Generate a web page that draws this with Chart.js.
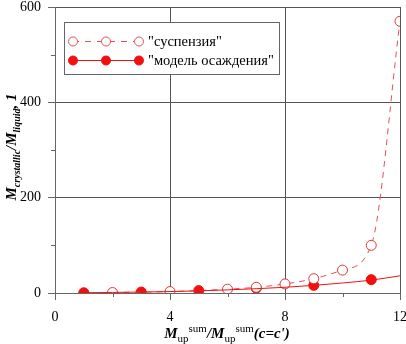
<!DOCTYPE html>
<html>
<head>
<meta charset="utf-8">
<script src="https://cdn.jsdelivr.net/npm/chart.js@4/dist/chart.umd.min.js"></script>
<style>
  html, body { margin: 0; padding: 0; background: #fff; }
  #wrap { width: 406px; height: 344px; position: relative; }
</style>
</head>
<body>
<div id="wrap"><canvas id="chart" width="406" height="344"></canvas></div>
<script>
// "суспензия" – open circles, dashed line
const suspX = [2, 4, 6, 7, 8, 9, 10, 11, 12];
const suspY = [1, 3, 8, 12, 19, 30, 48, 100, 570];
// "модель осаждения" – filled circles
const modelX = [1, 3, 5, 7, 9, 11];
const modelY = [0.5, 2, 5, 10, 16, 28];
// smooth solid curve through the model points
const fitX = [1, 2, 3, 4, 5, 6, 7, 8, 9, 10, 11, 12];
const fitY = [0.5, 1.2, 2, 3, 4.5, 6.5, 9, 12, 16, 21, 27, 36];

const legendLabels = ['"суспензия"', '"модель осаждения"'];
const xTickLabels = [0, 4, 8, 12];
const yTickLabels = [0, 200, 400, 600];

const SERIF = '"Liberation Serif", "Times New Roman", serif';
const DASH_RED = "#e5505a";
const RED = "#f01010";

const pts = (xs, ys) => xs.map((x, i) => ({ x: x, y: ys[i] }));

function drawRich(ctx, parts, x, y) {
  let total = 0;
  parts.forEach(p => { ctx.font = p.font; total += ctx.measureText(p.t).width; });
  let cx = x - total / 2;
  ctx.textAlign = "left";
  ctx.textBaseline = "alphabetic";
  parts.forEach(p => {
    ctx.font = p.font;
    ctx.fillText(p.t, cx, y + (p.dy || 0));
    cx += ctx.measureText(p.t).width;
  });
}

const big = "italic bold 15px " + SERIF;
const small = "11px " + SERIF;
const smallBI = "italic bold 10px " + SERIF;

const extras = {
  id: "extras",
  afterDraw(chart) {
    const ctx = chart.ctx;
    const xs = chart.scales.x, ys = chart.scales.y;
    const area = chart.chartArea;
    ctx.save();
    // minor ticks
    ctx.strokeStyle = "#666";
    ctx.lineWidth = 1;
    [2, 6, 10].forEach(v => {
      const px = Math.round(xs.getPixelForValue(v)) + 0.5;
      ctx.beginPath(); ctx.moveTo(px, area.bottom); ctx.lineTo(px, area.bottom + 4); ctx.stroke();
    });
    [100, 300, 500].forEach(v => {
      const py = Math.round(ys.getPixelForValue(v)) + 0.5;
      ctx.beginPath(); ctx.moveTo(area.left, py); ctx.lineTo(area.left - 4, py); ctx.stroke();
    });

    // axis titles
    ctx.fillStyle = "#000";
    drawRich(ctx, [
      { t: "M", font: big },
      { t: "up", font: small, dy: 4 },
      { t: "sum", font: small, dy: -6 },
      { t: "/M", font: big },
      { t: "up", font: small, dy: 4 },
      { t: "sum", font: small, dy: -6 },
      { t: "(c=c')", font: big }
    ], 227, 338);

    ctx.save();
    ctx.translate(16, 147);
    ctx.rotate(-Math.PI / 2);
    drawRich(ctx, [
      { t: "M", font: big },
      { t: "crystallic", font: smallBI, dy: 4 },
      { t: "/M", font: big },
      { t: "liquid", font: smallBI, dy: 4 },
      { t: ", 1", font: big }
    ], 0, 0);
    ctx.restore();

    // legend box
    const bx = 64.5, by = 22.5, bw = 215, bh = 52;
    ctx.fillStyle = "#fff";
    ctx.fillRect(bx, by, bw, bh);
    ctx.strokeStyle = "#666";
    ctx.strokeRect(bx, by, bw, bh);

    const rows = [
      { y: 41, dash: [6, 6], line: DASH_RED, fill: "#fff", stroke: DASH_RED },
      { y: 60, dash: [], line: RED, fill: RED, stroke: RED }
    ];
    rows.forEach((r, i) => {
      ctx.strokeStyle = r.line;
      ctx.setLineDash(r.dash);
      ctx.beginPath(); ctx.moveTo(73, r.y + 0.5); ctx.lineTo(139, r.y + 0.5); ctx.stroke();
      ctx.setLineDash([]);
      [73, 106, 139].forEach(mx => {
        ctx.beginPath();
        ctx.arc(mx, r.y + 0.5, 4.5, 0, Math.PI * 2);
        ctx.fillStyle = r.fill; ctx.fill();
        ctx.strokeStyle = r.stroke; ctx.stroke();
      });
      ctx.fillStyle = "#000";
      ctx.font = "14.5px " + SERIF;
      ctx.textAlign = "left";
      ctx.textBaseline = "middle";
      ctx.fillText(legendLabels[i], 148, r.y + 1);
    });
    ctx.restore();
  }
};

new Chart(document.getElementById("chart"), {
  type: "scatter",
  data: {
    datasets: [
      {
        label: "fit",
        data: pts(fitX, fitY),
        showLine: true,
        borderColor: RED,
        borderWidth: 1,
        pointRadius: 0,
        cubicInterpolationMode: "monotone",
      },
      {
        label: legendLabels[0],
        data: pts(suspX, suspY),
        showLine: true,
        borderColor: DASH_RED,
        borderWidth: 1,
        borderDash: [6, 5],
        cubicInterpolationMode: "monotone",
        pointRadius: 5,
        pointBackgroundColor: "#fff",
        pointBorderColor: "#e03535",
        pointBorderWidth: 1,
      },
      {
        label: legendLabels[1],
        data: pts(modelX, modelY),
        showLine: false,
        pointRadius: 5,
        pointBackgroundColor: RED,
        pointBorderColor: RED,
      },
    ],
  },
  options: {
    responsive: false,
    animation: false,
    layout: { padding: { top: 7, right: 6, left: 0, bottom: 0 } },
    scales: {
      x: {
        type: "linear",
        min: 0,
        max: 12,
        ticks: {
          stepSize: 2,
          autoSkip: false,
          maxRotation: 0,
          padding: 9,
          color: "#000",
          font: { family: SERIF, size: 14 },
          callback: v => xTickLabels.includes(v) ? String(v) : "",
        },
        grid: {
          color: c => (c.tick && xTickLabels.includes(c.tick.value)) ? "#555" : "rgba(0,0,0,0)",
          tickColor: c => (c.tick && xTickLabels.includes(c.tick.value)) ? "#666" : "rgba(0,0,0,0)",
          tickLength: 7,
        },
        border: { display: true, color: "#666" },
        afterFit: scale => { scale.height = 51; scale.paddingLeft = 0; scale.paddingRight = 0; },
      },
      y: {
        min: 0,
        max: 600,
        ticks: {
          stepSize: 100,
          padding: 7,
          color: "#000",
          font: { family: SERIF, size: 14 },
          callback: v => yTickLabels.includes(v) ? String(v) : "",
        },
        grid: {
          color: c => (c.tick && yTickLabels.includes(c.tick.value)) ? "#555" : "rgba(0,0,0,0)",
          tickColor: c => (c.tick && yTickLabels.includes(c.tick.value)) ? "#666" : "rgba(0,0,0,0)",
          tickLength: 7,
        },
        border: { display: true, color: "#666" },
        afterFit: scale => { scale.width = 55; scale.paddingTop = 0; scale.paddingBottom = 0; },
      },
    },
    plugins: {
      legend: { display: false },
      tooltip: { enabled: false },
    },
  },
  plugins: [extras],
});
</script>
</body>
</html>
